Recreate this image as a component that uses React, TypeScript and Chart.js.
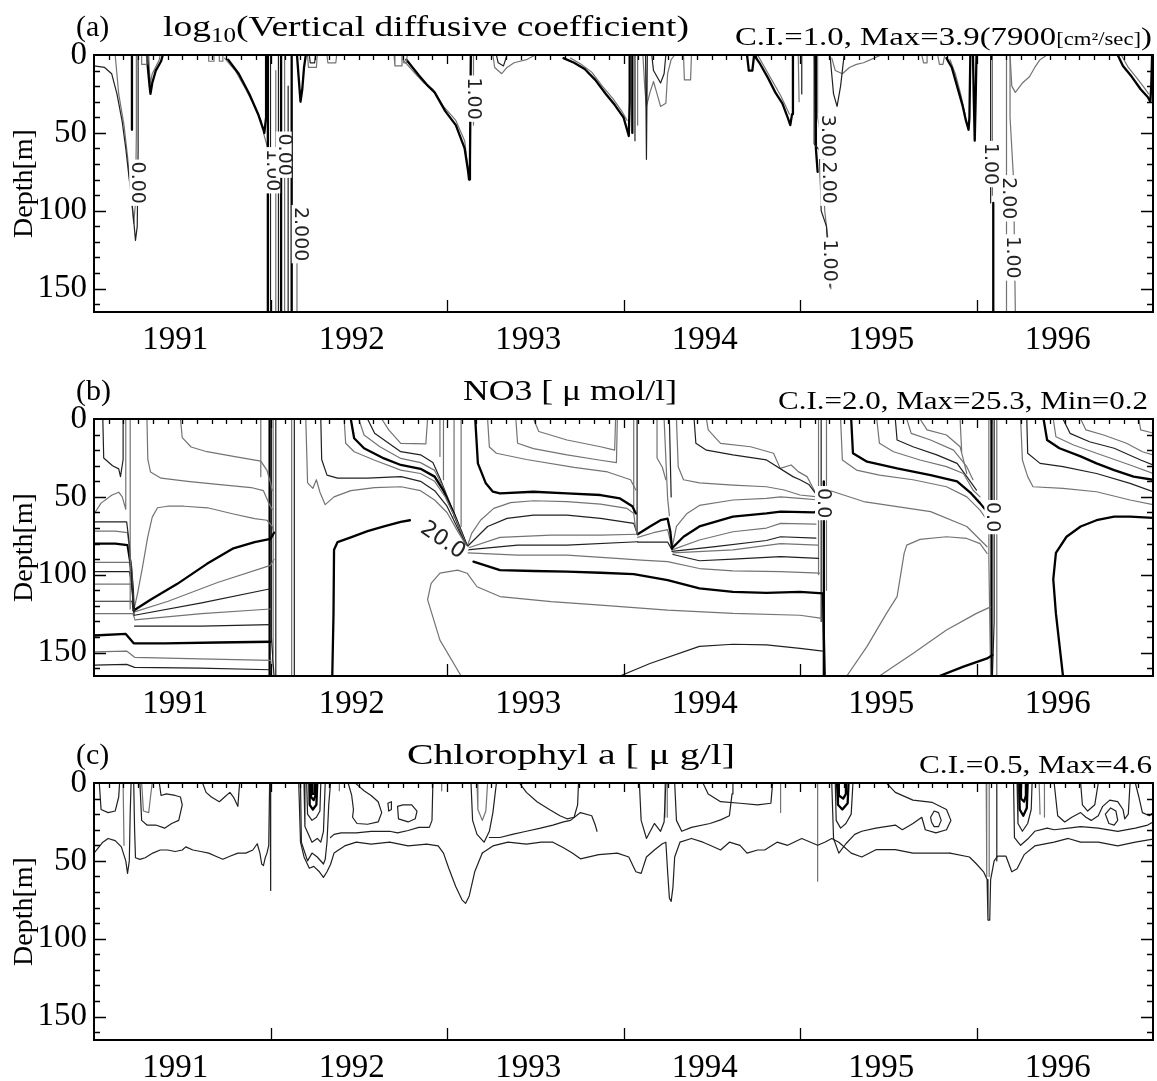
import React, { useEffect, useRef } from 'react';
import { Chart, registerables } from 'chart.js';

Chart.register(...registerables);

type Pt = [number, number];
type Line = [Pt[], string];
type Lbl = [string, number, number, number];
type Run = [string, number, number];

const FONT = "'Liberation Serif', 'Times New Roman', serif";
const LABEL_FONT = "'DejaVu Sans', sans-serif";

// ---------- axis values ----------
const yearLabels = [1991, 1992, 1993, 1994, 1995, 1996];
const yearStart = 1991;
const yearEnd = 1997;
const depthTicks = [0, 50, 100, 150];
const depthMax = 165;

// ---------- (a) log10 vertical diffusive coefficient : contour lines [year, depth] ----------
const kA01: Pt[] = [[1991.0,7],[1991.06,8],[1991.10,12],[1991.13,25],[1991.16,43],[1991.18,60],[1991.20,80],[1991.22,100],[1991.235,119],[1991.245,110],[1991.25,60],[1991.25,0]];
const kA02: Pt[] = [[1991.12,0],[1991.14,25],[1991.17,45],[1991.19,65],[1991.21,90],[1991.225,108],[1991.235,95],[1991.24,50],[1991.24,0]];
const kA03: Pt[] = [[1991.215,0],[1991.215,48]];
const kA04: Pt[] = [[1991.27,0],[1991.27,6],[1991.30,6],[1991.30,0]];
const kA05: Pt[] = [[1991.30,0],[1991.305,8],[1991.315,20],[1991.32,25],[1991.33,18],[1991.35,10],[1991.38,4],[1991.39,0]];
const kA06: Pt[] = [[1991.31,0],[1991.315,12],[1991.32,18],[1991.33,12],[1991.37,3],[1991.375,0]];
const kA07: Pt[] = [[1991.65,0],[1991.65,4],[1991.68,4],[1991.68,0]];
const kA08: Pt[] = [[1991.71,0],[1991.71,4],[1991.73,4],[1991.73,0]];
const kA09: Pt[] = [[1991.76,3],[1991.82,12],[1991.88,25],[1991.93,38],[1991.96,48],[1991.965,50],[1991.975,40],[1991.975,0]];
const kA10: Pt[] = [[1991.74,2],[1991.80,10],[1991.86,22],[1991.91,33],[1991.95,43]];
const kA11: Pt[] = [[1991.985,0],[1991.985,165]];
const kA12: Pt[] = [[1992.0,0],[1992.0,165]];
const kA13: Pt[] = [[1992.03,10],[1992.03,165]];
const kA14: Pt[] = [[1992.045,0],[1992.045,165]];
const kA15: Pt[] = [[1992.06,0],[1992.06,165]];
const kA16: Pt[] = [[1992.08,0],[1992.08,165]];
const kA17: Pt[] = [[1992.10,20],[1992.10,165]];
const kA18: Pt[] = [[1992.12,0],[1992.12,165]];
const kA19: Pt[] = [[1992.15,110],[1992.15,165]];
const kA20: Pt[] = [[1991.96,50],[1991.99,62],[1992.02,75],[1992.04,82]];
const kA21: Pt[] = [[1992.15,0],[1992.16,15],[1992.17,30],[1992.18,22],[1992.19,8],[1992.20,0]];
const kA22: Pt[] = [[1992.21,0],[1992.215,8],[1992.26,8],[1992.265,0]];
const kA23: Pt[] = [[1992.22,0],[1992.225,5],[1992.25,5],[1992.255,0]];
const kA24: Pt[] = [[1992.32,0],[1992.325,5],[1992.37,5],[1992.375,0]];
const kA25: Pt[] = [[1992.70,0],[1992.705,7],[1992.74,7],[1992.745,0]];
const kA26: Pt[] = [[1992.75,0],[1992.755,5],[1992.77,5],[1992.775,0]];
const kA27: Pt[] = [[1992.77,3],[1992.84,13],[1992.885,19],[1992.93,24],[1992.99,36],[1993.05,45],[1993.10,60],[1993.12,75],[1993.125,80],[1993.13,70],[1993.135,0]];
const kA28: Pt[] = [[1992.75,3],[1992.82,12],[1992.87,18],[1992.92,22],[1992.98,33],[1993.05,42],[1993.10,55],[1993.115,70],[1993.12,74]];
const kA29: Pt[] = [[1993.15,0],[1993.15,45]];
const kA30: Pt[] = [[1993.26,0],[1993.27,8],[1993.31,12],[1993.34,8],[1993.38,5],[1993.45,3],[1993.50,0]];
const kA31: Pt[] = [[1993.28,0],[1993.29,5],[1993.32,7],[1993.34,0]];
const kA32: Pt[] = [[1993.66,2],[1993.72,5],[1993.78,9],[1993.84,16],[1993.90,25],[1993.95,32],[1994.0,40],[1994.02,48],[1994.03,52],[1994.035,30],[1994.035,0]];
const kA33: Pt[] = [[1993.70,2],[1993.76,6],[1993.82,11],[1993.88,20],[1993.94,28],[1993.99,36],[1994.02,42]];
const kA34: Pt[] = [[1994.05,0],[1994.05,50]];
const kA35: Pt[] = [[1994.065,0],[1994.065,55]];
const kA36: Pt[] = [[1994.08,0],[1994.08,45]];
const kA37: Pt[] = [[1994.125,0],[1994.13,67],[1994.135,0]];
const kA38: Pt[] = [[1994.11,0],[1994.12,20],[1994.13,33],[1994.15,24],[1994.17,17],[1994.19,25],[1994.21,33],[1994.24,31],[1994.25,12],[1994.27,3],[1994.29,0]];
const kA39: Pt[] = [[1994.16,0],[1994.17,10],[1994.19,14],[1994.21,18],[1994.23,12],[1994.24,0]];
const kA40: Pt[] = [[1994.34,0],[1994.345,16],[1994.38,16],[1994.385,0]];
const kA41: Pt[] = [[1994.70,0],[1994.71,10],[1994.73,10],[1994.74,0]];
const kA42: Pt[] = [[1994.74,0],[1994.77,5],[1994.82,15],[1994.86,24],[1994.90,31],[1994.93,40],[1994.945,45],[1994.955,38],[1994.96,20],[1994.96,0]];
const kA43: Pt[] = [[1994.76,0],[1994.80,8],[1994.85,18],[1994.89,26],[1994.92,33],[1994.94,38]];
const kA44: Pt[] = [[1994.99,0],[1994.995,30]];
const kA45: Pt[] = [[1995.01,0],[1995.01,25]];
const kA46: Pt[] = [[1995.08,0],[1995.08,57],[1995.11,61],[1995.12,100],[1995.15,110],[1995.17,149]];
const kA47: Pt[] = [[1995.10,0],[1995.10,40],[1995.13,60],[1995.14,100],[1995.16,120],[1995.175,150]];
const kA48: Pt[] = [[1995.085,0],[1995.09,60],[1995.10,75]];
const kA49: Pt[] = [[1995.17,0],[1995.19,25],[1995.21,33],[1995.23,20],[1995.25,0]];
const kA50: Pt[] = [[1995.18,2],[1995.20,10],[1995.24,12],[1995.28,8],[1995.32,6],[1995.36,5],[1995.40,3],[1995.46,0]];
const kA51: Pt[] = [[1995.69,0],[1995.70,5],[1995.72,5],[1995.72,0]];
const kA52: Pt[] = [[1995.78,0],[1995.79,6],[1995.81,6],[1995.82,0]];
const kA53: Pt[] = [[1995.83,2],[1995.86,8],[1995.89,20],[1995.92,32],[1995.94,42],[1995.955,48],[1995.96,40],[1995.965,0]];
const kA54: Pt[] = [[1995.85,3],[1995.88,12],[1995.91,25],[1995.935,38]];
const kA55: Pt[] = [[1995.98,0],[1995.985,30],[1995.99,55],[1995.995,30],[1996.0,0]];
const kA56: Pt[] = [[1996.08,0],[1996.08,95]];
const kA57: Pt[] = [[1996.095,95],[1996.095,165]];
const kA58: Pt[] = [[1996.09,0],[1996.09,90]];
const kA59: Pt[] = [[1996.17,0],[1996.17,165]];
const kA60: Pt[] = [[1996.19,0],[1996.19,40],[1996.21,80],[1996.22,165]];
const kA61: Pt[] = [[1996.19,0],[1996.20,20],[1996.22,24],[1996.26,18],[1996.30,14],[1996.33,8],[1996.36,3],[1996.40,0]];
const kA62: Pt[] = [[1996.80,0],[1996.83,7],[1996.88,14],[1996.93,22],[1996.97,27],[1996.985,30],[1996.99,20],[1996.995,0]];
const kA63: Pt[] = [[1996.82,0],[1996.86,8],[1996.91,15],[1996.95,21],[1996.975,25]];

const labelsA: Lbl[] = [
  ['0.00', 1991.245, 82, 90], ['1.00', 1992.01, 74, 90], ['0.00', 1992.075, 64, 90],
  ['2.000', 1992.165, 115, 90], ['1.00', 1993.145, 28, 90], ['3.00', 1995.15, 52, 90],
  ['2.00', 1995.16, 82, 90], ['1.00', 1995.165, 132, 90], ['1.00', 1996.075, 70, 90],
  ['2.00', 1996.18, 92, 90], ['1.00', 1996.2, 130, 90],
];

// ---------- (b) NO3 : contour lines [year, depth] ----------
const nB_arc: Pt[] = [[1991.0,61],[1991.04,54],[1991.10,49],[1991.14,47],[1991.16,50],[1991.18,58],[1991.18,0]];
const nB_tl: Pt[] = [[1991.05,0],[1991.055,25],[1991.105,30],[1991.14,32],[1991.15,37],[1991.165,26],[1991.165,0]];
const nB_v1: Pt[] = [[1991.205,0],[1991.205,122]];
const nB_l1: Pt[] = [[1991.0,66],[1991.12,66],[1991.185,66],[1991.20,80],[1991.21,95],[1991.225,123]];
const nB_l2: Pt[] = [[1991.0,72],[1991.12,72],[1991.19,73],[1991.205,88],[1991.215,100],[1991.225,123]];
const nB_l3: Pt[] = [[1991.0,80],[1991.12,80],[1991.19,81],[1991.21,95],[1991.22,110],[1991.225,123]];
const nB_l4: Pt[] = [[1991.0,92],[1991.2,92],[1991.215,104],[1991.225,123]];
const nB_l5: Pt[] = [[1991.0,98],[1991.2,98],[1991.218,108],[1991.226,124]];
const nB_l6: Pt[] = [[1991.0,106],[1991.21,106],[1991.222,116],[1991.227,125]];
const nB_l7: Pt[] = [[1991.0,117],[1991.215,117],[1991.228,126]];
const nB_l8: Pt[] = [[1991.0,125],[1991.22,125],[1991.23,128]];
const nB_l9: Pt[] = [[1991.0,139],[1991.18,138],[1991.225,144],[1991.4,144],[1991.7,143.5],[1992.0,143]];
const nB_l10: Pt[] = [[1991.0,149.5],[1991.185,149],[1991.23,153],[1991.6,154],[1992.0,155]];
const nB_l11: Pt[] = [[1991.0,158],[1991.185,157.5],[1991.23,159.5],[1991.6,160],[1992.0,161]];
const nB_f1: Pt[] = [[1991.225,123],[1991.32,116],[1991.47,106],[1991.64,93],[1991.79,83],[1991.91,79],[1992.0,77],[1992.02,73]];
const nB_f2: Pt[] = [[1991.225,124],[1991.42,117],[1991.70,105],[1992.0,94],[1992.02,90]];
const nB_f3: Pt[] = [[1991.23,126],[1991.61,118],[1992.0,109]];
const nB_f4: Pt[] = [[1991.23,129],[1991.61,125],[1992.0,122]];
const nB_f5: Pt[] = [[1991.23,133],[1991.61,133],[1992.0,132]];
const nB_c1: Pt[] = [[1991.225,123],[1991.247,112],[1991.275,95],[1991.304,76],[1991.33,63],[1991.36,57],[1991.417,56],[1991.51,56],[1991.643,57],[1991.79,61],[1991.91,64],[1991.98,65],[1992.01,69],[1992.02,73]];
const nB_u1: Pt[] = [[1991.30,0],[1991.305,26],[1991.32,34],[1991.38,38],[1991.53,40],[1991.70,42],[1991.89,44],[1991.96,46],[1991.99,54],[1992.01,58]];
const nB_u2: Pt[] = [[1991.49,0],[1991.50,12],[1991.55,18],[1991.64,21],[1991.79,24],[1991.945,27],[1991.98,33],[1992.0,41],[1992.01,46]];
const nB_u3: Pt[] = [[1991.945,0],[1991.945,37]];
const nB_m1: Pt[] = [[1991.995,0],[1991.995,165]];
const nB_m2: Pt[] = [[1992.005,0],[1992.005,140],[1992.02,165]];
const nB_m3: Pt[] = [[1992.015,0],[1992.015,150],[1992.0,165]];
const nB_m4: Pt[] = [[1992.03,0],[1992.03,165]];
const nB_m5: Pt[] = [[1992.12,0],[1992.12,165]];
const nB_m6: Pt[] = [[1992.135,0],[1992.135,165]];
const nB_r1: Pt[] = [[1992.20,0],[1992.21,41],[1992.24,44.5],[1992.26,39],[1992.28,47],[1992.31,55],[1992.36,50],[1992.455,46],[1992.59,44],[1992.74,43.5],[1992.85,46],[1992.93,52],[1993.0,60],[1993.06,72],[1993.114,82]];
const nB_r2: Pt[] = [[1992.285,0],[1992.29,26],[1992.32,36],[1992.38,38],[1992.55,38],[1992.74,37],[1992.85,40],[1992.93,46],[1993.0,56],[1993.06,70],[1993.114,82]];
const nB_n1: Pt[] = [[1992.417,0],[1992.426,15.6],[1992.474,21],[1992.587,26.3],[1992.738,32.8],[1992.85,35],[1992.93,40],[1992.99,50],[1993.05,64],[1993.114,82]];
const nB_n2: Pt[] = [[1992.455,0],[1992.474,12.4],[1992.53,18.8],[1992.643,25.3],[1992.738,29.5],[1992.85,32],[1992.93,37],[1992.98,46],[1993.04,61],[1993.09,75],[1993.114,82]];
const nB_n3: Pt[] = [[1992.50,0],[1992.53,10.3],[1992.62,17.8],[1992.738,25.3],[1992.85,28],[1992.93,33],[1992.97,42],[1993.03,58],[1993.114,82]];
const nB_n4: Pt[] = [[1992.55,0],[1992.59,9.2],[1992.738,21],[1992.85,23],[1992.92,28],[1992.96,38],[1993.02,55],[1993.114,82]];
const nB_n5: Pt[] = [[1992.63,0],[1992.67,7],[1992.738,15.6],[1992.88,16],[1992.89,0]];
const nB_v2: Pt[] = [[1992.96,0],[1992.96,24]];
const nB_v3: Pt[] = [[1992.98,0],[1992.98,39]];
const nB_v4: Pt[] = [[1993.04,0],[1993.04,63]];
const nB_v5: Pt[] = [[1993.08,0],[1993.08,69]];
const nB_t20a: Pt[] = [[1992.35,165],[1992.357,125],[1992.36,84],[1992.38,79],[1992.455,76],[1992.55,72],[1992.643,69],[1992.738,66],[1992.79,65]];
const nB_t20b: Pt[] = [[1993.15,91.6],[1993.30,97],[1993.49,97.6],[1993.68,98],[1993.87,98.7],[1994.058,99.6],[1994.25,103.4],[1994.43,108.8],[1994.62,111],[1994.81,111.6],[1995.0,111],[1995.13,112],[1995.14,165]];
const nB_g1: Pt[] = [[1993.114,82],[1993.14,73.4],[1993.19,65],[1993.265,57.4],[1993.36,53.7],[1993.49,52.5],[1993.68,53],[1993.87,54.7],[1994.02,57.4],[1994.058,60.6],[1994.067,69],[1994.077,73.4]];
const nB_g2: Pt[] = [[1993.114,82],[1993.23,69],[1993.34,63.8],[1993.49,61.7],[1993.68,61.7],[1993.87,63.8],[1994.058,67],[1994.077,73.4]];
const nB_g3: Pt[] = [[1993.114,83],[1993.30,76],[1993.59,74.5],[1993.87,74.5],[1994.077,74]];
const nB_g4: Pt[] = [[1993.114,84],[1993.40,81],[1993.68,81],[1994.08,78.8]];
const nB_g5: Pt[] = [[1993.12,86],[1993.40,87.4],[1993.68,87.4],[1993.96,89.5],[1994.10,90.6],[1994.25,91.6],[1994.43,96],[1994.62,97.5],[1994.89,98],[1995.11,99]];
const nB_k1: Pt[] = [[1993.16,0],[1993.175,28.5],[1993.22,41.3],[1993.26,46.7],[1993.30,47.8],[1993.49,46.7],[1993.68,47.8],[1993.87,48.8],[1993.98,51],[1994.05,56],[1994.07,60.6]];
const nB_k2: Pt[] = [[1993.23,0],[1993.24,18],[1993.28,22],[1993.45,26],[1993.72,31],[1993.91,34],[1994.04,39],[1994.07,45.6]];
const nB_k3: Pt[] = [[1993.39,0],[1993.40,15.6],[1993.49,19],[1993.68,23],[1993.87,26.5],[1993.96,28],[1993.965,0]];
const nB_k4: Pt[] = [[1993.49,0],[1993.52,8],[1993.68,13.5],[1993.87,17.8],[1993.95,20],[1993.955,0]];
const nB_m7: Pt[] = [[1994.058,0],[1994.058,60]];
const nB_m8: Pt[] = [[1994.077,0],[1994.077,74]];
const nB_tri1: Pt[] = [[1994.08,74],[1994.15,69],[1994.21,65],[1994.25,64],[1994.265,72],[1994.275,83]];
const nB_tri2: Pt[] = [[1994.08,76],[1994.17,73],[1994.25,71],[1994.275,83]];
const nB_tri3: Pt[] = [[1994.08,79],[1994.25,79],[1994.275,84]];
const nB_v6: Pt[] = [[1994.19,0],[1994.19,25],[1994.22,31],[1994.24,39]];
const nB_v7: Pt[] = [[1994.23,0],[1994.25,51],[1994.26,62]];
const nB_v8: Pt[] = [[1994.26,0],[1994.27,50]];
const nB_h1: Pt[] = [[1994.275,83],[1994.30,69],[1994.36,60.6],[1994.43,55.5],[1994.62,52],[1994.81,51],[1994.89,50],[1995.0,51],[1995.11,52]];
const nB_h2: Pt[] = [[1994.275,83],[1994.34,75.6],[1994.43,69],[1994.62,62.7],[1994.81,60.6],[1994.89,59.5],[1995.08,60],[1995.105,59]];
const nB_h3: Pt[] = [[1994.275,84],[1994.43,77.7],[1994.62,72.4],[1994.81,70],[1994.89,67],[1995.09,67.5]];
const nB_h4: Pt[] = [[1994.275,85],[1994.52,82],[1994.81,78],[1994.89,75.6],[1995.09,76.5]];
const nB_h5: Pt[] = [[1994.28,86],[1994.62,84],[1994.89,80],[1995.1,81]];
const nB_h6: Pt[] = [[1994.28,87],[1994.43,91],[1994.62,90],[1994.89,88.4],[1995.105,89.5]];
const nB_c2: Pt[] = [[1993.08,165],[1992.96,142],[1992.89,116],[1992.91,105.6],[1992.96,99],[1993.06,97],[1993.114,99],[1993.17,107.7],[1993.30,114],[1993.59,117.3],[1993.87,119.5],[1994.25,122.7],[1994.62,124.8],[1995.0,126],[1995.125,128]];
const nB_c3: Pt[] = [[1993.98,165],[1994.15,157],[1994.43,146],[1994.62,144.6],[1994.81,145],[1995.0,147.3],[1995.13,149]];
const nB_p1: Pt[] = [[1994.30,0],[1994.31,30.6],[1994.34,39],[1994.43,41],[1994.62,42.4],[1994.81,43.5],[1994.91,45.6],[1995.0,48.8],[1995.1,50]];
const nB_p2: Pt[] = [[1994.40,0],[1994.41,15.6],[1994.47,20],[1994.62,23],[1994.81,26.3],[1994.96,37],[1995.0,39],[1995.05,42],[1995.09,48]];
const nB_p3: Pt[] = [[1994.47,0],[1994.48,7],[1994.55,15.6],[1994.72,17.8],[1994.85,22],[1994.888,31.7],[1994.95,29.5],[1994.99,33.8],[1995.04,37],[1995.07,43.5],[1995.09,47.8]];
const nB_m9: Pt[] = [[1995.105,0],[1995.105,100]];
const nB_m10: Pt[] = [[1995.12,0],[1995.12,130]];
const nB_m11: Pt[] = [[1995.135,40],[1995.135,165]];
const nB_m12: Pt[] = [[1995.15,0],[1995.15,110]];
const nB_k5: Pt[] = [[1995.23,0],[1995.24,26.3],[1995.32,32.8],[1995.45,36],[1995.64,39],[1995.83,43.5],[1995.945,50],[1996.02,58.5],[1996.06,65]];
const nB_k6: Pt[] = [[1995.29,0],[1995.30,22],[1995.38,27.4],[1995.55,31.7],[1995.74,36],[1995.89,40],[1995.97,47.8],[1996.02,54],[1996.067,60.6]];
const nB_k7: Pt[] = [[1995.435,0],[1995.45,15.6],[1995.53,21],[1995.68,26.3],[1995.83,30.6],[1995.926,35],[1995.98,45.6],[1996.02,50]];
const nB_k8: Pt[] = [[1995.54,0],[1995.55,13.5],[1995.64,17.8],[1995.775,23],[1995.89,28.5],[1995.945,37],[1996.0,45.6]];
const nB_k9: Pt[] = [[1995.605,0],[1995.63,9.2],[1995.74,13.5],[1995.87,20],[1995.945,30.6],[1995.98,39]];
const nB_k10: Pt[] = [[1995.68,0],[1995.72,7],[1995.83,10.3],[1995.907,17.8],[1995.926,26.3],[1995.945,35]];
const nB_v9: Pt[] = [[1995.907,0],[1995.916,21]];
const nB_k11: Pt[] = [[1995.16,45.6],[1995.36,53],[1995.74,59.5],[1995.945,69],[1996.06,82]];
const nB_big1: Pt[] = [[1995.265,165],[1995.38,146],[1995.49,124.8],[1995.55,114],[1995.59,86.3],[1995.605,81],[1995.68,77.3],[1995.83,75.6],[1995.945,76.7],[1996.02,80],[1996.06,86.3]];
const nB_big2: Pt[] = [[1995.45,165],[1995.64,150.5],[1995.83,135.5],[1996.0,124.8],[1996.08,120.6]];
const nB_big3: Pt[] = [[1995.79,165],[1995.926,159],[1996.06,153.7],[1996.09,151.6]];
const nB_m13: Pt[] = [[1996.07,0],[1996.07,90],[1996.08,165]];
const nB_m14: Pt[] = [[1996.085,0],[1996.085,165]];
const nB_m15: Pt[] = [[1996.10,0],[1996.10,130],[1996.09,165]];
const nB_m16: Pt[] = [[1996.115,0],[1996.115,165]];
const nB_big4: Pt[] = [[1996.49,165],[1996.45,125],[1996.435,103],[1996.45,86],[1996.51,75.6],[1996.59,69],[1996.68,65],[1996.78,62.7],[1996.87,62.7],[1997.0,63.5]];
const nB_w1: Pt[] = [[1996.25,0],[1996.26,26.3],[1996.29,37],[1996.32,43.5],[1996.49,44.5],[1996.68,46.7],[1996.87,52],[1997.0,55]];
const nB_w2: Pt[] = [[1996.285,0],[1996.29,22],[1996.36,28.5],[1996.49,30.6],[1996.68,35],[1996.87,41.3],[1997.0,46.7]];
const nB_w3: Pt[] = [[1996.38,0],[1996.40,13.5],[1996.47,18.8],[1996.59,24],[1996.68,28.5],[1996.78,32.8],[1996.89,37],[1997.0,39]];
const nB_w4: Pt[] = [[1996.435,0],[1996.45,11.4],[1996.55,16.7],[1996.68,22],[1996.87,29.5],[1997.0,35]];
const nB_w5: Pt[] = [[1996.49,0],[1996.53,9.2],[1996.64,14.6],[1996.78,18.8],[1996.93,26.3],[1997.0,29.5]];
const nB_w6: Pt[] = [[1996.59,0],[1996.62,7],[1996.72,10.3],[1996.85,15.6],[1996.94,21],[1997.0,23]];
const nB_w7: Pt[] = [[1996.92,0],[1996.93,7],[1997.0,9]];

const labelsB: Lbl[] = [['20.0', 1992.975, 78, 35], ['0.0', 1995.13, 54, 90], ['0.0', 1996.09, 63, 90]];

// ---------- (c) Chlorophyl a : contour lines [year, depth] ----------
const cC_d1: Pt[] = [[1991.0,45],[1991.05,38],[1991.08,35.6],[1991.12,37],[1991.155,41],[1991.18,50],[1991.19,58],[1991.2,50],[1991.205,20],[1991.21,0]];
const cC_d2: Pt[] = [[1991.225,0],[1991.23,30],[1991.235,48],[1991.26,49],[1991.29,48],[1991.333,45],[1991.375,43],[1991.417,43],[1991.46,44],[1991.50,43],[1991.52,41],[1991.56,43],[1991.605,44],[1991.65,45],[1991.69,47],[1991.73,49],[1991.77,47],[1991.815,45],[1991.86,45],[1991.90,43],[1991.925,39],[1991.94,45],[1991.95,52],[1991.96,53],[1991.97,48],[1991.98,45],[1991.99,40],[1991.995,0]];
const cC_sp1: Pt[] = [[1991.998,0],[1992.0,69],[1992.002,0]];
const cC_d3: Pt[] = [[1992.16,0],[1992.17,38],[1992.19,47.5],[1992.22,54.7],[1992.245,53.5],[1992.277,57],[1992.30,60.6],[1992.32,57],[1992.34,52.3],[1992.36,45],[1992.42,40.4],[1992.486,38],[1992.57,39.2],[1992.675,38],[1992.78,40.4],[1992.885,39.2],[1992.95,40.4],[1992.98,45],[1993.01,54.7],[1993.05,66.6],[1993.085,75],[1993.105,77.3],[1993.126,72.5],[1993.157,57],[1993.20,45]];
const cC_d4: Pt[] = [[1993.20,45],[1993.26,40.4],[1993.346,38],[1993.45,39.2],[1993.535,38],[1993.60,38],[1993.66,41.6],[1993.71,45],[1993.756,48.7],[1993.86,46],[1993.965,45],[1994.03,47.5],[1994.07,57],[1994.10,58],[1994.13,47.5],[1994.175,43],[1994.22,39],[1994.24,38],[1994.25,57],[1994.26,74],[1994.27,76],[1994.28,67],[1994.29,47.5],[1994.32,38],[1994.385,35.6]];
const cC_d5: Pt[] = [[1994.385,35.6],[1994.45,38],[1994.49,40],[1994.55,43],[1994.60,38],[1994.66,40],[1994.70,45],[1994.76,43],[1994.80,43],[1994.87,38],[1994.93,40],[1995.01,35.6],[1995.06,38],[1995.10,40],[1995.14,38],[1995.18,35.6],[1995.22,38],[1995.29,45],[1995.35,47.5],[1995.43,42.8],[1995.54,42.8],[1995.64,45],[1995.75,45],[1995.85,45]];
const cC_d6: Pt[] = [[1995.85,45],[1995.96,47.5],[1996.0,52],[1996.04,57],[1996.06,62],[1996.065,88],[1996.075,88],[1996.08,62],[1996.10,50],[1996.12,47],[1996.167,47],[1996.20,57],[1996.23,55],[1996.27,46],[1996.33,40.4],[1996.44,38],[1996.52,35.6],[1996.59,38],[1996.69,38],[1996.80,40.4],[1996.90,38],[1997.0,36]];
const cC_sp2: Pt[] = [[1995.10,0],[1995.10,63]];
const cC_sp3: Pt[] = [[1996.055,0],[1996.058,60]];
const cC_sp4: Pt[] = [[1996.072,0],[1996.072,60]];
const cC_sp5: Pt[] = [[1996.115,0],[1996.115,50]];
const cC_g0: Pt[] = [[1991.165,0],[1991.17,40]];
const cC_m1: Pt[] = [[1991.03,0],[1991.04,17],[1991.08,19],[1991.12,18],[1991.14,9],[1991.145,0]];
const cC_m2: Pt[] = [[1991.27,0],[1991.28,18],[1991.31,19],[1991.32,9],[1991.33,0]];
const cC_m3: Pt[] = [[1991.26,0],[1991.27,24],[1991.30,27],[1991.35,27],[1991.40,29],[1991.44,26],[1991.48,24],[1991.50,14],[1991.49,9],[1991.46,8],[1991.41,7],[1991.38,8],[1991.37,0]];
const cC_m4: Pt[] = [[1991.615,0],[1991.635,6],[1991.665,9],[1991.71,12],[1991.74,9],[1991.77,6],[1991.79,9],[1991.815,15],[1991.825,0]];
const cC_b1a: Pt[] = [[1992.17,0],[1992.175,38],[1992.21,50],[1992.235,45],[1992.265,47.5],[1992.30,52],[1992.31,49],[1992.32,38],[1992.33,14],[1992.34,0]];
const cC_b1b: Pt[] = [[1992.19,0],[1992.195,28],[1992.235,38],[1992.265,35.6],[1992.285,38],[1992.30,31],[1992.31,0]];
const cC_b1c: Pt[] = [[1992.205,0],[1992.21,20],[1992.235,24],[1992.26,22],[1992.28,18],[1992.285,0]];
const cC_b1d: Pt[] = [[1992.22,0],[1992.222,14],[1992.24,17],[1992.26,14],[1992.265,0]];
const cC_b1e: Pt[] = [[1992.228,0],[1992.23,9],[1992.245,11],[1992.255,8],[1992.255,0]];
const cC_b1f: Pt[] = [[1992.235,0],[1992.236,7],[1992.25,7],[1992.25,0]];
const cC_mid1: Pt[] = [[1992.34,35],[1992.36,33],[1992.40,32],[1992.486,32],[1992.57,31],[1992.675,31],[1992.72,32],[1992.78,30.5],[1992.84,28.5],[1992.90,28.5],[1992.915,24],[1992.92,0]];
const cC_ov1: Pt[] = [[1992.44,0],[1992.46,8],[1992.47,17],[1992.465,22],[1992.49,26],[1992.55,26.5],[1992.61,25],[1992.63,19],[1992.61,12],[1992.57,8],[1992.53,5],[1992.50,2],[1992.48,0]];
const cC_ov2: Pt[] = [[1992.665,13],[1992.67,18],[1992.685,17],[1992.685,12],[1992.665,13]];
const cC_ov3: Pt[] = [[1992.72,15],[1992.725,23],[1992.78,25],[1992.82,23],[1992.83,18],[1992.80,14],[1992.75,14],[1992.72,15]];
const cC_v2: Pt[] = [[1992.39,0],[1992.39,5]];
const cC_v3: Pt[] = [[1992.97,0],[1992.97,5]];
const cC_u1: Pt[] = [[1993.136,0],[1993.145,24],[1993.17,33],[1993.21,38],[1993.24,31],[1993.26,19],[1993.28,0]];
const cC_u2: Pt[] = [[1993.17,0],[1993.175,17],[1993.20,24],[1993.22,18],[1993.23,0]];
const cC_mid2: Pt[] = [[1993.24,35],[1993.30,35],[1993.37,33],[1993.45,31],[1993.53,29],[1993.60,27],[1993.66,25],[1993.70,24],[1993.756,19],[1993.82,21],[1993.84,27],[1993.85,31]];
const cC_top2: Pt[] = [[1993.41,0],[1993.45,6],[1993.51,12],[1993.58,17],[1993.64,21],[1993.68,23],[1993.72,22],[1993.74,14],[1993.745,0]];
const cC_u3: Pt[] = [[1994.09,0],[1994.10,24],[1994.13,35.6],[1994.175,26],[1994.21,31],[1994.23,25],[1994.24,0]];
const cC_g1: Pt[] = [[1994.235,0],[1994.235,22]];
const cC_g2: Pt[] = [[1994.248,0],[1994.248,22]];
const cC_u4: Pt[] = [[1994.29,0],[1994.30,24],[1994.33,31],[1994.385,28.5],[1994.49,26],[1994.55,23.7],[1994.60,21],[1994.615,7],[1994.62,0]];
const cC_u5: Pt[] = [[1994.45,0],[1994.48,7],[1994.55,12],[1994.66,13],[1994.76,14],[1994.835,13],[1994.845,0]];
const cC_g3: Pt[] = [[1994.89,0],[1994.89,19]];
const cC_b2a: Pt[] = [[1995.18,0],[1995.19,35.6],[1995.22,45],[1995.26,39],[1995.31,33],[1995.35,31],[1995.43,29],[1995.54,27],[1995.58,30],[1995.64,26],[1995.69,22],[1995.71,30],[1995.77,32],[1995.83,30],[1995.855,24],[1995.83,17],[1995.75,12.5],[1995.64,11],[1995.54,6],[1995.49,0]];
const cC_b2b: Pt[] = [[1995.20,0],[1995.205,24],[1995.23,29],[1995.26,26],[1995.29,20],[1995.30,0]];
const cC_b2c: Pt[] = [[1995.21,0],[1995.215,14],[1995.24,17],[1995.27,13],[1995.275,0]];
const cC_b2d: Pt[] = [[1995.22,0],[1995.22,8],[1995.245,10],[1995.26,7],[1995.26,0]];
const cC_ov4: Pt[] = [[1995.74,22],[1995.76,18],[1995.785,19],[1995.80,24],[1995.785,28],[1995.76,28],[1995.745,25],[1995.74,22]];
const cC_b3a: Pt[] = [[1996.21,0],[1996.215,35],[1996.25,40],[1996.29,36],[1996.33,31],[1996.40,29],[1996.44,30],[1996.52,29],[1996.59,28],[1996.69,29],[1996.80,31],[1996.90,29],[1996.97,27],[1997.0,25]];
const cC_b3b: Pt[] = [[1996.23,0],[1996.235,26],[1996.26,31],[1996.29,26],[1996.31,17],[1996.315,0]];
const cC_b3c: Pt[] = [[1996.24,0],[1996.245,17],[1996.265,21],[1996.285,16],[1996.29,0]];
const cC_b3d: Pt[] = [[1996.25,0],[1996.252,10],[1996.27,12],[1996.28,8],[1996.28,0]];
const cC_g4: Pt[] = [[1996.355,0],[1996.36,20]];
const cC_g5: Pt[] = [[1996.385,0],[1996.385,22]];
const cC_rl1: Pt[] = [[1996.44,0],[1996.46,21],[1996.50,25],[1996.54,22],[1996.59,19],[1996.62,22],[1996.65,24],[1996.69,21],[1996.715,15],[1996.755,11],[1996.80,12],[1996.83,17],[1996.84,23],[1996.86,20],[1996.87,0]];
const cC_rl2: Pt[] = [[1996.59,0],[1996.60,14],[1996.63,18],[1996.67,14],[1996.69,0]];
const cC_rl3: Pt[] = [[1996.73,20],[1996.76,16],[1996.79,18],[1996.80,24],[1996.78,27],[1996.75,26],[1996.73,20]];
const cC_rl4: Pt[] = [[1996.90,0],[1996.92,9],[1996.94,19],[1996.98,21],[1997.0,19]];

// ---------- line styles ----------
const STYLE: Record<string, { c: string; w: number }> = {
  K: { c: '#000000', w: 2.3 },
  k: { c: '#202020', w: 1.2 },
  g: { c: '#737373', w: 1.2 },
};

const linesA: Line[] = [
  [kA01,'k'],[kA02,'g'],[kA03,'K'],[kA04,'g'],[kA05,'K'],[kA06,'g'],[kA07,'g'],[kA08,'g'],[kA09,'K'],[kA10,'g'],
  [kA11,'K'],[kA12,'k'],[kA13,'g'],[kA14,'k'],[kA15,'K'],[kA16,'g'],[kA17,'k'],[kA18,'K'],[kA19,'g'],[kA20,'g'],
  [kA21,'K'],[kA22,'g'],[kA23,'k'],[kA24,'g'],[kA25,'g'],[kA26,'g'],[kA27,'K'],[kA28,'g'],[kA29,'g'],[kA30,'g'],
  [kA31,'k'],[kA32,'K'],[kA33,'g'],[kA34,'K'],[kA35,'k'],[kA36,'g'],[kA37,'k'],[kA38,'g'],[kA39,'k'],[kA40,'g'],
  [kA41,'K'],[kA42,'K'],[kA43,'g'],[kA44,'g'],[kA45,'k'],[kA46,'k'],[kA47,'g'],[kA48,'K'],[kA49,'k'],[kA50,'g'],
  [kA51,'g'],[kA52,'g'],[kA53,'K'],[kA54,'g'],[kA55,'K'],[kA56,'k'],[kA57,'K'],[kA58,'g'],[kA59,'g'],[kA60,'g'],
  [kA61,'g'],[kA62,'K'],[kA63,'g'],
];

const linesB: Line[] = [
  [nB_arc,'g'],[nB_tl,'k'],[nB_v1,'g'],[nB_l1,'k'],[nB_l2,'g'],[nB_l3,'K'],[nB_l4,'g'],[nB_l5,'k'],[nB_l6,'g'],[nB_l7,'k'],
  [nB_l8,'g'],[nB_l9,'K'],[nB_l10,'g'],[nB_l11,'k'],[nB_f1,'K'],[nB_f2,'g'],[nB_f3,'k'],[nB_f4,'g'],[nB_f5,'k'],[nB_c1,'g'],
  [nB_u1,'g'],[nB_u2,'g'],[nB_u3,'g'],[nB_m1,'K'],[nB_m2,'k'],[nB_m3,'g'],[nB_m4,'k'],[nB_m5,'g'],[nB_m6,'k'],[nB_r1,'g'],
  [nB_r2,'k'],[nB_n1,'g'],[nB_n2,'K'],[nB_n3,'g'],[nB_n4,'k'],[nB_n5,'g'],[nB_v2,'g'],[nB_v3,'g'],[nB_v4,'g'],[nB_v5,'g'],
  [nB_t20a,'K'],[nB_t20b,'K'],[nB_g1,'g'],[nB_g2,'k'],[nB_g3,'g'],[nB_g4,'k'],[nB_g5,'g'],[nB_k1,'K'],[nB_k2,'g'],[nB_k3,'g'],
  [nB_k4,'g'],[nB_m7,'g'],[nB_m8,'k'],[nB_tri1,'K'],[nB_tri2,'g'],[nB_tri3,'k'],[nB_v6,'g'],[nB_v7,'g'],[nB_v8,'k'],[nB_h1,'g'],
  [nB_h2,'K'],[nB_h3,'g'],[nB_h4,'k'],[nB_h5,'g'],[nB_h6,'k'],[nB_c2,'g'],[nB_c3,'k'],[nB_p1,'g'],[nB_p2,'k'],[nB_p3,'g'],
  [nB_m9,'g'],[nB_m10,'k'],[nB_m11,'K'],[nB_m12,'g'],[nB_k5,'g'],[nB_k6,'K'],[nB_k7,'g'],[nB_k8,'k'],[nB_k9,'g'],[nB_k10,'g'],
  [nB_v9,'g'],[nB_k11,'g'],[nB_big1,'g'],[nB_big2,'g'],[nB_big3,'K'],[nB_m13,'g'],[nB_m14,'K'],[nB_m15,'k'],[nB_m16,'g'],[nB_big4,'K'],
  [nB_w1,'g'],[nB_w2,'k'],[nB_w3,'K'],[nB_w4,'g'],[nB_w5,'k'],[nB_w6,'g'],[nB_w7,'g'],
];

const linesC: Line[] = [
  [cC_d1,'k'],[cC_d2,'k'],[cC_sp1,'k'],[cC_d3,'k'],[cC_d4,'k'],[cC_d5,'k'],[cC_d6,'k'],[cC_sp2,'g'],[cC_sp3,'g'],[cC_sp4,'g'],
  [cC_sp5,'k'],[cC_g0,'g'],[cC_m1,'k'],[cC_m2,'g'],[cC_m3,'k'],[cC_m4,'k'],[cC_b1a,'k'],[cC_b1b,'k'],[cC_b1c,'k'],[cC_b1d,'K'],
  [cC_b1e,'K'],[cC_b1f,'K'],[cC_mid1,'k'],[cC_ov1,'k'],[cC_ov2,'k'],[cC_ov3,'k'],[cC_v2,'g'],[cC_v3,'g'],[cC_u1,'k'],[cC_u2,'g'],
  [cC_mid2,'k'],[cC_top2,'k'],[cC_u3,'k'],[cC_g1,'g'],[cC_g2,'g'],[cC_u4,'k'],[cC_u5,'k'],[cC_g3,'g'],[cC_b2a,'k'],[cC_b2b,'k'],
  [cC_b2c,'K'],[cC_b2d,'K'],[cC_ov4,'k'],[cC_b3a,'k'],[cC_b3b,'k'],[cC_b3c,'K'],[cC_b3d,'K'],[cC_g4,'g'],[cC_g5,'g'],[cC_rl1,'k'],
  [cC_rl2,'k'],[cC_rl3,'k'],[cC_rl4,'k'],
];

// ---------- panel texts ----------
interface PanelCfg {
  lines: Line[];
  labels: Lbl[];
  tag: string;
  title: Run[];
  titleLeft: number;
  titleWidth: number;
  ci: Run[];
  ciRight: number;
  ciWidth: number;
}

const panelA: PanelCfg = {
  lines: linesA, labels: labelsA, tag: '(a)',
  title: [['log', 30, 0], ['10', 20, 6], ['(Vertical diffusive coefficient)', 30, 0]], titleLeft: 163, titleWidth: 526,
  ci: [['C.I.=1.0, Max=3.9(7900', 26, 0], ['[cm²/sec]', 18, 0], [')', 26, 0]], ciRight: 1152, ciWidth: 417,
};
const panelB: PanelCfg = {
  lines: linesB, labels: labelsB, tag: '(b)',
  title: [['NO3 [ μ mol/l]', 30, 0]], titleLeft: 463, titleWidth: 214,
  ci: [['C.I.=2.0, Max=25.3, Min=0.2', 26, 0]], ciRight: 1148, ciWidth: 370,
};
const panelC: PanelCfg = {
  lines: linesC, labels: [], tag: '(c)',
  title: [['Chlorophyl a [ μ g/l]', 30, 0]], titleLeft: 407, titleWidth: 328,
  ci: [['C.I.=0.5, Max=4.6', 26, 0]], ciRight: 1152, ciWidth: 233,
};

function drawRuns(ctx: CanvasRenderingContext2D, runs: Run[], left: number, baseline: number, width: number) {
  let total = 0;
  const ws = runs.map((r) => {
    ctx.font = `${r[1]}px ${FONT}`;
    const w = ctx.measureText(r[0]).width;
    total += w;
    return w;
  });
  const sx = width / total;
  ctx.save();
  ctx.translate(left, baseline);
  ctx.scale(sx, 1);
  let cx = 0;
  runs.forEach((r, i) => {
    ctx.font = `${r[1]}px ${FONT}`;
    ctx.fillText(r[0], cx, r[2]);
    cx += ws[i];
  });
  ctx.restore();
}

function makeFramePlugin(cfg: PanelCfg) {
  return {
    id: 'frame',
    afterDatasetsDraw(chart: any) {
      const ctx: CanvasRenderingContext2D = chart.ctx;
      const { left, right, top, bottom } = chart.chartArea;
      const xs = chart.scales.x;
      const ys = chart.scales.y;
      ctx.save();
      // contour labels
      cfg.labels.forEach(([t, xv, yv, rot]) => {
        const px = xs.getPixelForValue(xv);
        const py = ys.getPixelForValue(yv);
        const size = t === '20.0' ? 22 : 19;
        ctx.save();
        ctx.translate(px, py);
        ctx.rotate((rot * Math.PI) / 180);
        ctx.font = `${size}px ${LABEL_FONT}`;
        const w = ctx.measureText(t).width;
        ctx.fillStyle = '#ffffff';
        ctx.fillRect(-w / 2 - 2, -size * 0.42, w + 4, size * 0.84);
        ctx.fillStyle = '#222222';
        ctx.textAlign = 'center';
        ctx.textBaseline = 'middle';
        ctx.fillText(t, 0, 0);
        ctx.restore();
      });
      // inner tick marks
      ctx.strokeStyle = '#000';
      ctx.lineWidth = 1.3;
      ctx.beginPath();
      const months = (yearEnd - yearStart) * 12;
      for (let m = 1; m < months; m++) {
        const px = Math.round(xs.getPixelForValue(yearStart + m / 12)) + 0.5;
        const len = m % 12 === 0 ? 9 : 5;
        ctx.moveTo(px, top);
        ctx.lineTo(px, top + len);
      }
      for (let yv = yearStart + 1; yv < yearEnd; yv++) {
        const px = Math.round(xs.getPixelForValue(yv)) + 0.5;
        ctx.moveTo(px, bottom);
        ctx.lineTo(px, bottom - 12);
      }
      for (let d = 10; d < depthMax; d += 10) {
        const py = Math.round(ys.getPixelForValue(d)) + 0.5;
        const len = d % 50 === 0 ? 12 : 6;
        ctx.moveTo(left, py);
        ctx.lineTo(left + len, py);
        ctx.moveTo(right, py);
        ctx.lineTo(right - len, py);
      }
      ctx.stroke();
      ctx.lineWidth = 2;
      ctx.strokeRect(left, top, right - left, bottom - top);
      ctx.restore();
    },
    afterDraw(chart: any) {
      const ctx: CanvasRenderingContext2D = chart.ctx;
      const { top } = chart.chartArea;
      ctx.save();
      ctx.fillStyle = '#000';
      ctx.textBaseline = 'alphabetic';
      ctx.textAlign = 'left';
      ctx.font = `30px ${FONT}`;
      ctx.fillText(cfg.tag, 76, top - 19);
      drawRuns(ctx, cfg.title, cfg.titleLeft, top - 19, cfg.titleWidth);
      drawRuns(ctx, cfg.ci, cfg.ciRight - cfg.ciWidth, top - 10, cfg.ciWidth);
      ctx.restore();
    },
  };
}

const PLOT_TOP = 55;
const PLOT_H = 257;

function Panel({ cfg, top, height }: { cfg: PanelCfg; top: number; height: number }) {
  const ref = useRef<HTMLCanvasElement | null>(null);
  useEffect(() => {
    const canvas = ref.current;
    if (!canvas) return;
    const xAxisH = height - PLOT_TOP - PLOT_H;
    const chart = new Chart(canvas, {
      type: 'scatter',
      data: {
        datasets: cfg.lines.map(([pts, s]) => ({
          data: pts.map(([x, y]) => ({ x, y })),
          showLine: true,
          borderColor: STYLE[s].c,
          backgroundColor: STYLE[s].c,
          borderWidth: STYLE[s].w,
          pointRadius: 0,
          pointHoverRadius: 0,
          fill: false,
          tension: 0,
          borderJoinStyle: 'round',
          borderCapStyle: 'round',
        })) as any,
      },
      options: {
        animation: false,
        responsive: false,
        devicePixelRatio: 1,
        events: [],
        layout: { padding: { top: PLOT_TOP, right: 4, left: 0, bottom: 0 } },
        plugins: { legend: { display: false }, tooltip: { enabled: false }, title: { display: false } },
        scales: {
          x: {
            type: 'linear',
            min: yearStart,
            max: yearEnd,
            grid: { display: false, drawTicks: false },
            border: { display: false },
            afterBuildTicks: (s: any) => {
              s.ticks = yearLabels.map((v) => ({ value: v + 0.46 }));
            },
            afterFit: (s: any) => {
              s.height = xAxisH;
            },
            ticks: {
              autoSkip: false,
              maxRotation: 0,
              padding: 9,
              color: '#000',
              font: { family: FONT, size: 33 },
              callback: (v: any) => String(Math.floor(Number(v))),
            },
          },
          y: {
            type: 'linear',
            reverse: true,
            min: 0,
            max: depthMax,
            grid: { display: false, drawTicks: false },
            border: { display: false },
            afterBuildTicks: (s: any) => {
              s.ticks = depthTicks.map((v) => ({ value: v }));
            },
            afterFit: (s: any) => {
              s.width = 94;
            },
            ticks: {
              autoSkip: false,
              padding: 7,
              color: '#000',
              font: { family: FONT, size: 33 },
              callback: (v: any) => String(v),
            },
            title: {
              display: true,
              text: 'Depth[m]',
              color: '#000',
              font: { family: FONT, size: 28 },
              padding: { top: 8, bottom: 0 },
            },
          },
        },
      } as any,
      plugins: [makeFramePlugin(cfg)],
    });
    return () => chart.destroy();
  }, [cfg, height]);
  return (
    <canvas
      ref={ref}
      width={1157}
      height={height}
      style={{ position: 'absolute', left: 0, top, width: 1157, height, display: 'block' }}
    />
  );
}

export default function App() {
  return (
    <div style={{ position: 'absolute', left: 0, top: 0, width: 1157, height: 1081, background: '#fff', overflow: 'hidden' }}>
      <Panel cfg={panelA} top={0} height={364} />
      <Panel cfg={panelB} top={364} height={364} />
      <Panel cfg={panelC} top={728} height={353} />
    </div>
  );
}
